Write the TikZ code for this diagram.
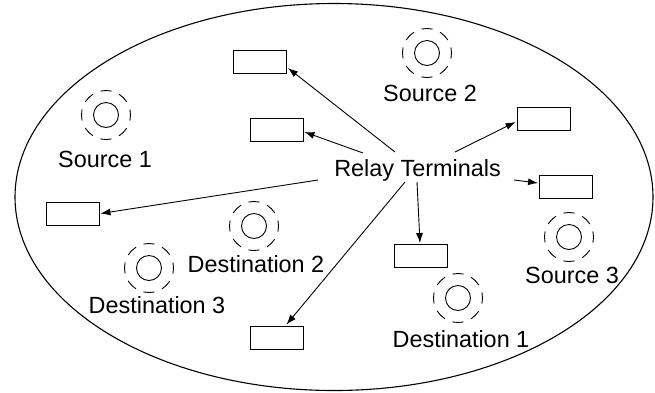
\documentclass[tikz,border=0pt]{standalone}
\usepackage{fontspec}
\setmainfont{Liberation Sans}
\usetikzlibrary{arrows.meta,calc}
\begin{document}
\begin{tikzpicture}[x=1pt,y=-1pt,
  lbl/.style={font=\fontsize{23.4}{28}\selectfont, inner sep=0pt, anchor=base},
  relay/.style={draw, line width=0.9pt, minimum width=53pt, minimum height=23pt, inner sep=0pt},
  core/.style={circle, draw, line width=0.9pt, minimum size=25pt, inner sep=0pt},
  halo/.style={circle, draw, line width=0.9pt, minimum size=49pt, inner sep=0pt,
    dash pattern=on 11pt off 8.2pt, dash phase=5.5pt},
  link/.style={line width=0.9pt, -{Latex[length=10pt,width=7pt]}}]
\useasboundingbox (0,0) rectangle (655,392);
\draw[line width=1.1pt] (334,197) ellipse [x radius=319, y radius=193.5];

% relay terminals (boxes)
\node[relay] (r1) at (260,62) {};
\node[relay] (r2) at (276.5,129.5) {};
\node[relay] (r3) at (543.5,119) {};
\node[relay] (r4) at (566,186.5) {};
\node[relay] (r5) at (72.5,213.5) {};
\node[relay] (r6) at (276.5,337.5) {};
\node[relay] (r7) at (421,256) {};

% sources and destinations
\node[core] (s1i) at (106,115) {}; \node[halo] (s1o) at (106,115) {};
\node[core] (s2i) at (427,53) {};  \node[halo] (s2o) at (427,53) {};
\node[core] (s3i) at (569,237) {}; \node[halo] (s3o) at (569,237) {};
\node[core] (d1i) at (458,298) {}; \node[halo] (d1o) at (458,298) {};
\node[core] (d2i) at (254,226) {}; \node[halo] (d2o) at (254,226) {};
\node[core] (d3i) at (149,268) {}; \node[halo] (d3o) at (149,268) {};

% labels
\node[lbl] (ls1) at (105,167) {Source 1};
\node[lbl] (ls2) at (430,101) {Source 2};
\node[lbl] (ls3) at (572,283) {Source 3};
\node[lbl] (ld1) at (461,347) {Destination 1};
\node[lbl] (ld2) at (256,272) {Destination 2};
\node[lbl] (ld3) at (157,313) {Destination 3};
\node[lbl] (rt) at (417.5,176) {Relay Terminals};

% arrow origins around the label
\coordinate (a1) at (395,152);
\coordinate (a2) at (363,153);
\coordinate (a3) at (455,152);
\coordinate (a4) at (514,180);
\coordinate (a5) at (318,180);
\coordinate (a6) at (405,182);
\coordinate (a7) at (417,182);

\draw[link] (a1) -- ($(r1.east)+(1,6)$);
\draw[link] (a2) -- ($(r2.east)+(1,2.5)$);
\draw[link] (a3) -- ($(r3.west)+(-1,3)$);
\draw[link] (a4) -- ($(r4.west)+(-1,-3.5)$);
\draw[link] (a5) -- ($(r5.east)+(1,0)$);
\draw[link] (a6) -- ($(r6.north)+(10,-1)$);
\draw[link] (a7) -- ($(r7.north)+(-1,-1)$);
\end{tikzpicture}
\end{document}
